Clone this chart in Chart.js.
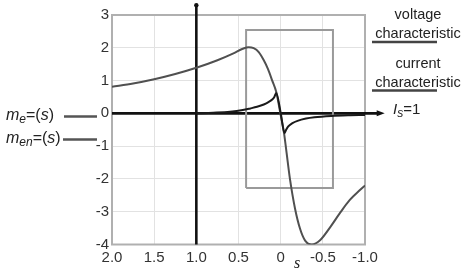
<!DOCTYPE html>
<html><head><meta charset="utf-8">
<script src="https://cdn.jsdelivr.net/npm/chart.js@4/dist/chart.umd.min.js"></script>
<style>html,body{margin:0;padding:0;background:#fff}#wrap{width:461px;height:269px;position:relative}</style>
</head><body><div id="wrap"><canvas id="c" width="461" height="269"></canvas></div>
<script>
// ---- data ----
const voltX = [2.0, 1.75, 1.5, 1.25, 1.0, 0.75, 0.56, 0.45, 0.38, 0.32, 0.26, 0.2, 0.15, 0.1, 0.053, 0.0, -0.04, -0.07, -0.11, -0.17, -0.23, -0.29, -0.37, -0.47, -0.59, -0.7, -0.82, -0.94, -1.0];
const voltY = [0.81, 0.91, 1.04, 1.2, 1.39, 1.62, 1.83, 1.97, 2.02, 1.99, 1.87, 1.62, 1.35, 1.0, 0.66, -0.05, -0.6, -1.2, -2.0, -2.9, -3.52, -3.88, -4.0, -3.86, -3.46, -3.05, -2.64, -2.34, -2.2];
const currX = [1.0, 0.8, 0.6, 0.45, 0.36, 0.28, 0.2, 0.14, 0.1, 0.075, 0.053, 0.0, -0.045, -0.065, -0.09, -0.14, -0.2, -0.3, -0.4, -0.6, -0.8, -1.0];
const currY = [0.0, 0.02, 0.05, 0.1, 0.15, 0.2, 0.27, 0.35, 0.42, 0.5, 0.62, 0.02, -0.6, -0.5, -0.4, -0.3, -0.23, -0.16, -0.12, -0.08, -0.06, -0.05];
const boxX = [0.41, 0.41, -0.62, -0.62, 0.41];
const boxY = [-2.28, 2.54, 2.54, -2.28, -2.28];
const xTickValues = [2, 1.5, 1, 0.5, 0, -0.5, -1];
const xTickLabels = ['2.0', '1.5', '1.0', '0.5', '0', '-0.5', '-1.0'];
const yTickValues = [3, 2, 1, 0, -1, -2, -3, -4];
const yTickLabels = ['3', '2', '1', '0', '-1', '-2', '-3', '-4'];
const axisAtX = 1.0, axisAtY = 0;
const axisArrowX = -1.21, axisArrowY = 3.3;

const pts = (xs, ys) => xs.map((x, i) => ({x, y: ys[i]}));
const FONT = '"Liberation Sans", Arial, sans-serif';

function runs(ctx, x, y, parts) {
  let cx = x;
  for (const p of parts) {
    ctx.font = p.f;
    ctx.fillText(p.t, cx, y + (p.dy || 0));
    cx += ctx.measureText(p.t).width;
  }
}

const deco = {
  id: 'deco',
  beforeDatasetsDraw(chart) {
    const {ctx, chartArea: a, scales: {x, y}} = chart;
    ctx.save();
    ctx.strokeStyle = '#b0b0b0'; ctx.lineWidth = 2;
    ctx.strokeRect(a.left, a.top, a.right - a.left, a.bottom - a.top);
    const px = x.getPixelForValue(axisAtX), py = y.getPixelForValue(axisAtY);
    const ex = x.getPixelForValue(axisArrowX), ey = y.getPixelForValue(axisArrowY);
    ctx.strokeStyle = '#111'; ctx.fillStyle = '#111'; ctx.lineWidth = 2.6;
    ctx.beginPath(); ctx.moveTo(a.left, py); ctx.lineTo(ex - 4, py); ctx.stroke();
    ctx.beginPath(); ctx.moveTo(ex + 2, py); ctx.lineTo(ex - 6, py - 3); ctx.lineTo(ex - 6, py + 3); ctx.closePath(); ctx.fill();
    ctx.beginPath(); ctx.moveTo(px, a.bottom); ctx.lineTo(px, ey + 1); ctx.stroke();
    ctx.beginPath(); ctx.arc(px, ey, 2.2, 0, Math.PI * 2); ctx.fill();
    ctx.restore();
  },
  afterDraw(chart) {
    const {ctx} = chart;
    ctx.save();
    ctx.fillStyle = '#222'; ctx.textBaseline = 'alphabetic';
    runs(ctx, 6, 120, [
      {t: 'm', f: 'italic 16px ' + FONT},
      {t: 'e', f: 'italic 12px ' + FONT, dy: 3},
      {t: '=(', f: '16px ' + FONT},
      {t: 's', f: 'italic 16px ' + FONT},
      {t: ')', f: '16px ' + FONT}
    ]);
    runs(ctx, 6, 143, [
      {t: 'm', f: 'italic 16px ' + FONT},
      {t: 'en', f: 'italic 12px ' + FONT, dy: 3},
      {t: '=(', f: '16px ' + FONT},
      {t: 's', f: 'italic 16px ' + FONT},
      {t: ')', f: '16px ' + FONT}
    ]);
    ctx.strokeStyle = '#555'; ctx.lineWidth = 2.6;
    ctx.beginPath(); ctx.moveTo(64, 116.5); ctx.lineTo(97, 116.5); ctx.stroke();
    ctx.beginPath(); ctx.moveTo(63, 139.5); ctx.lineTo(97, 139.5); ctx.stroke();
    ctx.textAlign = 'center';
    ctx.font = '14.5px ' + FONT;
    ctx.fillText('voltage', 418, 19);
    ctx.fillText('characteristic', 418, 38);
    ctx.fillText('current', 418, 68);
    ctx.fillText('characteristic', 418, 87);
    ctx.strokeStyle = '#444'; ctx.lineWidth = 2.6;
    ctx.beginPath(); ctx.moveTo(372, 42); ctx.lineTo(437, 42); ctx.stroke();
    ctx.beginPath(); ctx.moveTo(372, 90.5); ctx.lineTo(437, 90.5); ctx.stroke();
    ctx.textAlign = 'left';
    runs(ctx, 393, 114, [
      {t: 'I', f: 'italic 15px ' + FONT},
      {t: 's', f: 'italic 12px ' + FONT, dy: 3},
      {t: '=1', f: '15px ' + FONT}
    ]);
    ctx.font = 'italic 16px "Liberation Serif", serif';
    ctx.fillText('s', 294, 268);
    ctx.restore();
  }
};

new Chart(document.getElementById('c'), {
  type: 'line',
  data: {
    datasets: [
      {label: 'current', data: pts(currX, currY), borderColor: '#1a1a1a', borderWidth: 2, pointRadius: 0, cubicInterpolationMode: 'monotone', order: 1},
      {label: 'voltage', data: pts(voltX, voltY), borderColor: '#505050', borderWidth: 2, pointRadius: 0, cubicInterpolationMode: 'monotone', order: 2},
      {label: 'box', data: pts(boxX, boxY), borderColor: '#9a9a9a', borderWidth: 2, pointRadius: 0, tension: 0, order: 3}
    ]
  },
  options: {
    responsive: false, animation: false, devicePixelRatio: 1,
    layout: {padding: {left: 0, right: 96, top: 15, bottom: 0}},
    plugins: {legend: {display: false}, tooltip: {enabled: false}},
    scales: {
      x: {
        type: 'linear', min: -1, max: 2, reverse: true,
        afterBuildTicks: s => { s.ticks = xTickValues.map(v => ({value: v})); },
        afterFit: s => { s.height = 24.5; },
        ticks: {
          autoSkip: false, maxRotation: 0, padding: 4, color: '#333',
          font: {size: 15, family: FONT},
          callback: v => { const i = xTickValues.indexOf(v); return i >= 0 ? xTickLabels[i] : ''; }
        },
        grid: {color: '#e2e2e2', lineWidth: 1, drawTicks: false},
        border: {display: false}
      },
      y: {
        type: 'linear', min: -4, max: 3,
        afterBuildTicks: s => { s.ticks = yTickValues.map(v => ({value: v})); },
        afterFit: s => { s.width = 112; },
        ticks: {
          autoSkip: false, padding: 3, color: '#333',
          font: {size: 15, family: FONT},
          callback: v => { const i = yTickValues.indexOf(v); return i >= 0 ? yTickLabels[i] : ''; }
        },
        grid: {color: '#e2e2e2', lineWidth: 1, drawTicks: false},
        border: {display: false}
      }
    }
  },
  plugins: [deco]
});
</script>
</body></html>
